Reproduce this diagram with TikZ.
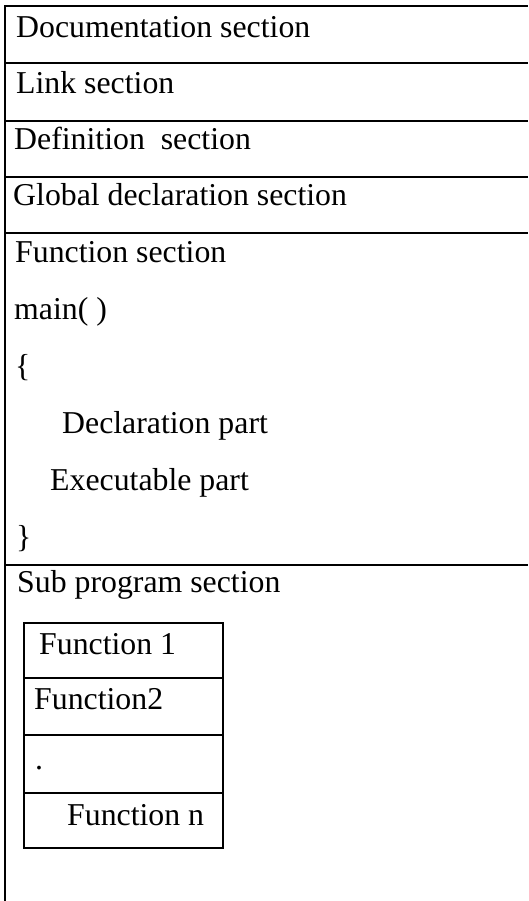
\documentclass[tikz,border=0pt]{standalone}
\usepackage{fontspec}
\setmainfont{Liberation Serif}
\begin{document}
\begin{tikzpicture}[x=1pt,y=-1pt,
  txt/.style={anchor=base west,inner sep=0pt,font=\fontsize{31.8}{36}\selectfont},
  rule/.style={line width=2pt,line cap=butt},
  inner/.style={line width=1.4pt}]
\useasboundingbox (0,0) rectangle (528,901);

% outer frame: left side and section rules
\draw[rule] (5,901) -- (5,6.5) -- (528,6.5);
\foreach \yy in {63,121,177,233,565}
  \draw[rule] (5,\yy) -- (528,\yy);

% section headings
\node[txt] (doc)  at (16,38)  {Documentation section};
\node[txt] (link) at (16,94)  {Link section};
\node[txt] (def)  at (14,150) {Definition\ \ section};
\node[txt] (glob) at (13,206) {Global declaration section};
\node[txt] (fun)  at (15,262) {Function section};
\node[txt] (main) at (14,319) {main( )};
\node[txt] (lb)   at (15,376) {\{};
\node[txt] (decl) at (62,433) {Declaration part};
\node[txt] (exec) at (50,490) {Executable part};
\node[txt] (rb)   at (16,547) {\}};
\node[txt] (sub)  at (17,592) {Sub program section};

% sub program table
\draw[inner] (24,623) rectangle (223,848);
\foreach \yy in {678,735,793}
  \draw[inner] (24,\yy) -- (223,\yy);
\node[txt] (f1) at (39,654) {Function 1};
\node[txt] (f2) at (34,709) {Function2};
\node[txt] (fd) at (35,769) {.};
\node[txt] (fn) at (67,825) {Function n};
\end{tikzpicture}
\end{document}
